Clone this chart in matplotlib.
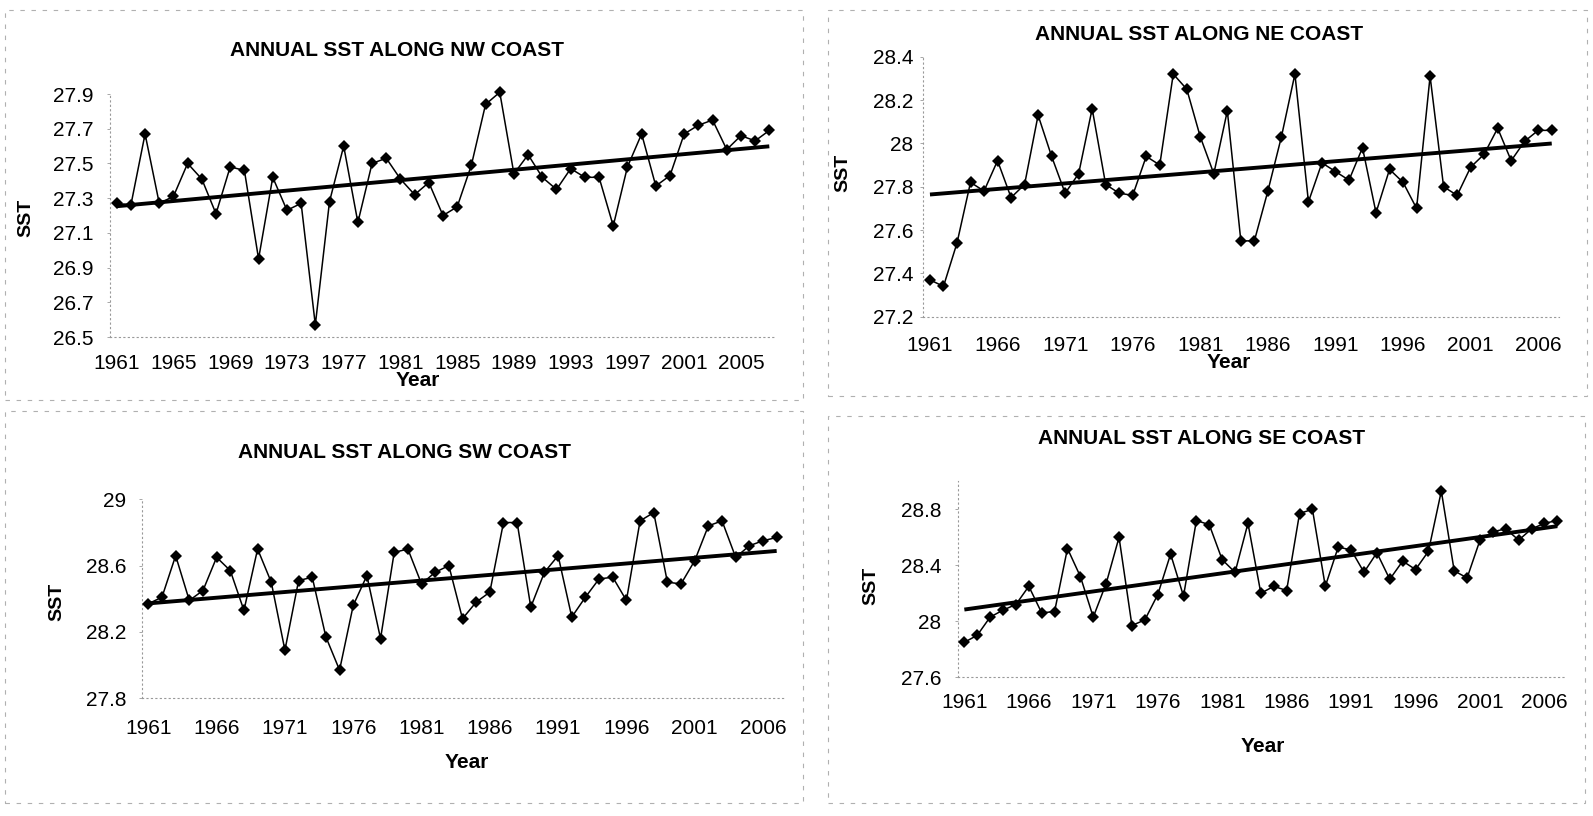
import numpy as np
import matplotlib
matplotlib.use("Agg")
import matplotlib.pyplot as plt
from matplotlib.patches import Rectangle

plt.rcParams['font.family'] = ['Liberation Sans', 'DejaVu Sans']

W, H = 1593, 816

years = np.arange(1961, 2008)

sst_nw = [27.27, 27.26, 27.67, 27.27, 27.31, 27.50, 27.41, 27.21, 27.48, 27.46,
          26.95, 27.42, 27.23, 27.27, 26.57, 27.28, 27.60, 27.16, 27.50, 27.53,
          27.41, 27.32, 27.39, 27.20, 27.25, 27.49, 27.84, 27.91, 27.44, 27.55,
          27.42, 27.35, 27.47, 27.42, 27.42, 27.14, 27.48, 27.67, 27.37, 27.43,
          27.67, 27.72, 27.75, 27.58, 27.66, 27.63, 27.69]

sst_ne = [27.37, 27.34, 27.54, 27.82, 27.78, 27.92, 27.75, 27.81, 28.13, 27.94,
          27.77, 27.86, 28.16, 27.81, 27.77, 27.76, 27.94, 27.90, 28.32, 28.25,
          28.03, 27.86, 28.15, 27.55, 27.55, 27.78, 28.03, 28.32, 27.73, 27.91,
          27.87, 27.83, 27.98, 27.68, 27.88, 27.82, 27.70, 28.31, 27.80, 27.76,
          27.89, 27.95, 28.07, 27.92, 28.01, 28.06, 28.06]

sst_sw = [28.37, 28.41, 28.66, 28.39, 28.45, 28.65, 28.57, 28.33, 28.70, 28.50,
          28.09, 28.51, 28.53, 28.17, 27.97, 28.36, 28.54, 28.16, 28.68, 28.70,
          28.49, 28.56, 28.60, 28.28, 28.38, 28.44, 28.86, 28.86, 28.35, 28.56,
          28.66, 28.29, 28.41, 28.52, 28.53, 28.39, 28.87, 28.92, 28.50, 28.49,
          28.63, 28.84, 28.87, 28.65, 28.72, 28.75, 28.77]

sst_se = [27.85, 27.90, 28.03, 28.08, 28.12, 28.25, 28.06, 28.07, 28.52, 28.32,
          28.03, 28.27, 28.60, 27.97, 28.01, 28.19, 28.48, 28.18, 28.72, 28.69,
          28.44, 28.35, 28.70, 28.20, 28.25, 28.22, 28.77, 28.80, 28.25, 28.53,
          28.51, 28.35, 28.49, 28.30, 28.43, 28.37, 28.50, 28.93, 28.36, 28.31,
          28.58, 28.64, 28.66, 28.58, 28.66, 28.70, 28.72]

titles = ["ANNUAL SST ALONG NW COAST", "ANNUAL SST ALONG NE COAST",
          "ANNUAL SST ALONG SW COAST", "ANNUAL SST ALONG SE COAST"]

yticks_nw = [26.5, 26.7, 26.9, 27.1, 27.3, 27.5, 27.7, 27.9]
yticks_ne = [27.2, 27.4, 27.6, 27.8, 28.0, 28.2, 28.4]
yticks_sw = [27.8, 28.2, 28.6, 29.0]
yticks_se = [27.6, 28.0, 28.4, 28.8]

xstep_nw, xstep_ne, xstep_sw, xstep_se = 4, 5, 5, 5


def fx(x):
    return x / W


def fy(y):
    return 1 - y / H


fig = plt.figure(figsize=(W / 100, H / 100), dpi=100)

# faint dashed frames around the four chart areas
for (x0, y0, x1, y1) in [(5, 10, 803, 400), (828, 10, 1587, 396),
                         (5, 411, 803, 803), (828, 416, 1585, 803)]:
    fig.patches.append(Rectangle((fx(x0), fy(y1)), fx(x1) - fx(x0), fy(y0) - fy(y1),
                                 transform=fig.transFigure, fill=False,
                                 edgecolor='#b0b0b0', lw=0.8, ls=(0, (4, 6))))

panels = [
    # data, title, yticks, ylim, xstep, axes box (left, top, right, bottom) px,
    # title pos, SST pos, Year pos, ytick pad, xtick pad
    (sst_nw, titles[0], yticks_nw, (26.5, 27.9), xstep_nw, (109.6, 94, 776.4, 337),
     (397, 51), (26, 218), (418, 381), 9.5, 12),
    (sst_ne, titles[1], yticks_ne, (27.2, 28.4), xstep_ne, (923.2, 56.7, 1558.5, 316.7),
     (1199, 34), (843, 173), (1229, 363), 5, 14),
    (sst_sw, titles[2], yticks_sw, (27.8, 29.0), xstep_sw, (141.5, 499.3, 783.5, 698.3),
     (404, 452), (57, 602), (467, 763), 9, 15),
    (sst_se, titles[3], yticks_se, (27.6, 29.0), xstep_se, (957.9, 481.3, 1563.8, 677.3),
     (1202, 439), (871, 586), (1263, 746), 10, 11),
]

for vals, title, yt, ylim, xstep, box, tpos, spos, ypos, ypad, xpad in panels:
    l, t, r, b = box
    ax = fig.add_axes([fx(l), fy(b), fx(r) - fx(l), fy(t) - fy(b)])
    vals = np.asarray(vals)
    ax.plot(years, vals, color='black', lw=1.1, marker='D', ms=6.4,
            markeredgewidth=0, clip_on=False, zorder=3)
    coef = np.polyfit(years, vals, 1)
    ax.plot(years, np.polyval(coef, years), color='black', lw=2.8,
            solid_capstyle='butt', clip_on=False, zorder=4)
    ax.set_xlim(1960.5, 2007.5)
    ax.set_ylim(*ylim)
    ax.set_yticks(yt)
    ax.set_yticklabels(['%g' % v for v in yt])
    xt = years[::xstep]
    ax.set_xticks(xt)
    ax.set_xticklabels([str(v) for v in xt])
    ax.tick_params(axis='y', length=2, width=0.6, color='#999999', pad=ypad,
                   labelsize=15)
    ax.tick_params(axis='x', length=0, pad=xpad, labelsize=15)
    for side in ('top', 'right'):
        ax.spines[side].set_visible(False)
    for side in ('left', 'bottom'):
        ax.spines[side].set_color('#999999')
        ax.spines[side].set_linewidth(0.8)
        ax.spines[side].set_linestyle((0, (1, 3)))
    ax.patch.set_alpha(0)

    fig.text(fx(tpos[0]), fy(tpos[1]), title, ha='center', va='center',
             fontsize=15, fontweight='bold')
    fig.text(fx(spos[0]), fy(spos[1]), 'SST', ha='center', va='center',
             rotation=90, fontsize=14, fontweight='bold')
    fig.text(fx(ypos[0]), fy(ypos[1]), 'Year', ha='center', va='center',
             fontsize=15, fontweight='bold')

fig.savefig('out.png', dpi=100, facecolor='white')
